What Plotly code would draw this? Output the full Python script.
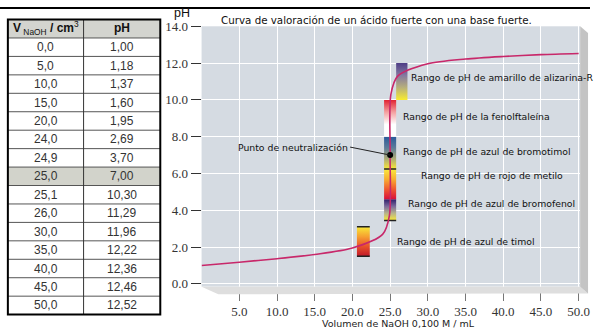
import plotly.graph_objects as go

# ---------------- data ----------------
volumes = [0.0, 5.0, 10.0, 15.0, 20.0, 24.0, 24.9, 25.0, 25.1, 26.0, 30.0, 35.0, 40.0, 45.0, 50.0]
ph_values = [1.00, 1.18, 1.37, 1.60, 1.95, 2.69, 3.70, 7.00, 10.30, 11.29, 11.96, 12.22, 12.36, 12.46, 12.52]

x_ticks = [5, 10, 15, 20, 25, 30, 35, 40, 45, 50]
y_ticks = [0, 2, 4, 6, 8, 10, 12, 14]

table_headers = ["<b>V</b><sub> NaOH</sub><b> / cm</b><sup>3</sup>", "<b>pH</b>"]

# indicator bars: name, x_left, x_right, pH_low, pH_high, colours (bottom -> top)
ind_names = ["azul de timol", "azul de bromofenol", "rojo de metilo",
             "azul de bromotimol", "fenolftaleína", "amarillo de alizarina-R"]
ind_x0 = [20.6, 24.2, 24.2, 24.2, 24.2, 25.8]
ind_x1 = [22.3, 25.8, 25.8, 25.8, 25.8, 27.3]
ind_lo = [1.5, 3.45, 4.6, 6.25, 8.0, 10.0]
ind_hi = [3.1, 4.6, 6.25, 8.0, 10.0, 12.0]
ind_colors = [
    ["#c0182a", "#e8502a", "#f6a030", "#f8e838"],
    ["#f8e838", "#b8b48a", "#7a6a9a", "#2e1e6a"],
    ["#d8103a", "#f05a30", "#f8b030", "#f8ec40"],
    ["#f8e838", "#a8a878", "#5a7a9a", "#2a5a9a"],
    ["#ffffff", "#ffffff", "#f4a0a0", "#e02030"],
    ["#f8ec30", "#b8b07a", "#8478a0", "#4e3e86"],
]
# label positions (x, y) for indicator texts
lab_text = ["Rango de pH de azul de timol", "Rango de pH de azul de bromofenol",
            "Rango de pH de rojo de metilo", "Rango de pH de azul de bromotimol",
            "Rango de pH de la fenolftaleína", "Rango de pH de amarillo de alizarina-R"]
lab_x = [25.6, 27.15, 28.85, 26.5, 26.5, 27.5]
lab_y = [2.32, 4.37, 5.90, 7.21, 9.11, 11.21]

neutral_x = 25.0
neutral_y = 7.0

# ---------------- figure ----------------
W, H = 600, 336
PX_L, PX_R, PX_T, PX_B = 205, 590, 20, 290
TAB_L, TAB_R, TAB_T, TAB_B = 8, 163, 13, 319
TAB_MID = 85


def fx(px):
    return px / W


def fy(py):
    return 1 - py / H


fig = go.Figure()

# indicator bars with vertical gradients
for i in range(len(ind_names)):
    cols = ind_colors[i]
    n = len(cols)
    cs = [[k / (n - 1), c] for k, c in enumerate(cols)]
    fig.add_trace(go.Scatter(
        x=[ind_x0[i], ind_x1[i], ind_x1[i], ind_x0[i], ind_x0[i]],
        y=[ind_lo[i], ind_lo[i], ind_hi[i], ind_hi[i], ind_lo[i]],
        mode="lines", fill="toself", line=dict(width=0),
        fillgradient=dict(type="vertical", colorscale=cs),
        hoverinfo="skip", showlegend=False))

# dark edge marks on some bars
edge_lines = [(ind_x0[0], ind_x1[0], ind_hi[0]), (ind_x0[0], ind_x1[0], ind_lo[0]),
              (ind_x0[2], ind_x1[2], ind_hi[2]), (ind_x0[1], ind_x1[1], ind_lo[1])]
for x0, x1, yv in edge_lines:
    fig.add_trace(go.Scatter(x=[x0, x1], y=[yv, yv], mode="lines",
                             line=dict(color="#222222", width=1.5),
                             hoverinfo="skip", showlegend=False))

# titration curve
fig.add_trace(go.Scatter(
    x=volumes, y=ph_values, mode="lines",
    line=dict(color="#c8286a", width=1.6, shape="spline", smoothing=0.8),
    hoverinfo="skip", showlegend=False))

# neutralization point
fig.add_trace(go.Scatter(x=[neutral_x], y=[neutral_y], mode="markers",
                         marker=dict(color="black", size=6),
                         hoverinfo="skip", showlegend=False))

shapes = []
annotations = []

# ---------- data table (drawn with shapes + text) ----------
tab_vol = [f"{v:.1f}".replace(".", ",") for v in volumes]
tab_ph = [f"{p:.2f}".replace(".", ",") for p in ph_values]
n_rows = len(volumes) + 1
row_h = (TAB_B - TAB_T) / n_rows
col_cx = [(TAB_L + TAB_MID) / 2, (TAB_MID + TAB_R) / 2]

# header fill
shapes.append(dict(type="rect", xref="paper", yref="paper",
                   x0=fx(TAB_L), x1=fx(TAB_R), y0=fy(TAB_T + row_h), y1=fy(TAB_T),
                   fillcolor="#d3d4cf", line=dict(width=0), layer="below"))
for r, v in enumerate(volumes):
    top = TAB_T + row_h * (r + 1)
    if v == 25.0:
        shapes.append(dict(type="rect", xref="paper", yref="paper",
                           x0=fx(TAB_L), x1=fx(TAB_R), y0=fy(top + row_h), y1=fy(top),
                           fillcolor="#d2d3cb", line=dict(width=0), layer="below"))
    shapes.append(dict(type="line", xref="paper", yref="paper",
                       x0=fx(TAB_L), x1=fx(TAB_R), y0=fy(top), y1=fy(top),
                       line=dict(color="#555555", width=1)))
    cy = top + row_h / 2
    for c, txt in enumerate([tab_vol[r], tab_ph[r]]):
        annotations.append(dict(x=fx(col_cx[c]), y=fy(cy), xref="paper", yref="paper",
                                text=txt, showarrow=False, xanchor="center", yanchor="middle",
                                font=dict(family="Liberation Sans, Arial", size=12, color="#333333")))
# column divider
shapes.append(dict(type="line", xref="paper", yref="paper",
                   x0=fx(TAB_MID), x1=fx(TAB_MID), y0=fy(TAB_B), y1=fy(TAB_T),
                   line=dict(color="#333333", width=1)))
# header texts
for c, t in enumerate(table_headers):
    annotations.append(dict(x=fx(col_cx[c]), y=fy(TAB_T + row_h / 2 - 0.5),
                            xref="paper", yref="paper", text=t, showarrow=False,
                            xanchor="center", yanchor="middle",
                            font=dict(family="Liberation Sans, Arial", size=12, color="#111111")))
# table outer border
shapes.append(dict(type="rect", xref="paper", yref="paper",
                   x0=fx(TAB_L), x1=fx(TAB_R), y0=fy(TAB_B), y1=fy(TAB_T),
                   line=dict(color="black", width=2)))

# floor and right wall (3D look)
shapes.append(dict(type="path", xref="paper", yref="paper",
                   path=f"M {fx(PX_L)},{fy(PX_B)} L {fx(PX_R)},{fy(PX_B)} L {fx(598)},{fy(297)} L {fx(222)},{fy(298)} Z",
                   fillcolor="#dedede", line=dict(width=0), layer="above"))
shapes.append(dict(type="path", xref="paper", yref="paper",
                   path=f"M {fx(PX_R)},{fy(PX_T)} L {fx(598)},{fy(27)} L {fx(598)},{fy(297)} L {fx(PX_R)},{fy(PX_B)} Z",
                   fillcolor="#c4c4c4", line=dict(width=0), layer="above"))
# top rule
shapes.append(dict(type="line", xref="paper", yref="paper",
                   x0=0, x1=1, y0=fy(1), y1=fy(1), line=dict(color="black", width=2)))

lab_font = dict(family="DejaVu Sans, Verdana", size=9.3, color="#111111")
for t, x, y in zip(lab_text, lab_x, lab_y):
    annotations.append(dict(x=x, y=y, xref="x", yref="y", text=t, showarrow=False,
                            xanchor="left", yanchor="middle", font=lab_font))
annotations.append(dict(x=neutral_x, y=neutral_y, xref="x", yref="y",
                        text="Punto de neutralización", showarrow=True,
                        arrowhead=0, arrowwidth=1, arrowcolor="#222222",
                        ax=-40, ay=-8, xanchor="right", yanchor="middle",
                        font=lab_font))
annotations.append(dict(x=fx(175), y=fy(6), xref="paper", yref="paper", text="pH",
                        showarrow=False, xanchor="left", yanchor="middle",
                        font=dict(family="Liberation Sans, Arial", size=12.5, color="#111111")))
annotations.append(dict(x=fx(223), y=fy(13), xref="paper", yref="paper",
                        text="Curva de valoración de un ácido fuerte con una base fuerte.",
                        showarrow=False, xanchor="left", yanchor="middle",
                        font=dict(family="DejaVu Sans, Verdana", size=10.3, color="#111111")))
annotations.append(dict(x=fx(405), y=fy(328), xref="paper", yref="paper",
                        text="Volumen de NaOH 0,100 M / mL",
                        showarrow=False, xanchor="center", yanchor="middle",
                        font=dict(family="DejaVu Sans, Verdana", size=9.5, color="#222222")))

serif = dict(family="Liberation Serif, Times New Roman", size=13, color="#333333")

fig.update_layout(
    width=W, height=H,
    margin=dict(l=0, r=0, t=0, b=0),
    paper_bgcolor="white", plot_bgcolor="#d5dbe2",
    showlegend=False,
    shapes=shapes, annotations=annotations,
    xaxis=dict(domain=[fx(PX_L), fx(PX_R)], range=[0, 50.2],
               tickvals=x_ticks, ticktext=[f"{v:.1f}" for v in x_ticks],
               ticks="outside", ticklen=13, tickcolor="#777777", tickwidth=1,
               showgrid=True, gridcolor="white", gridwidth=1,
               zeroline=False, showline=False, tickfont=serif, fixedrange=True),
    yaxis=dict(domain=[fy(PX_B), fy(PX_T)], range=[-0.15, 14.0],
               tickvals=y_ticks, ticktext=[f"{v:.1f}" for v in y_ticks],
               ticks="outside", ticklen=10, tickcolor="#333333", tickwidth=1,
               showgrid=True, gridcolor="white", gridwidth=1,
               zeroline=False, showline=False, tickfont=serif, fixedrange=True),
)

fig.write_html("out.html")
